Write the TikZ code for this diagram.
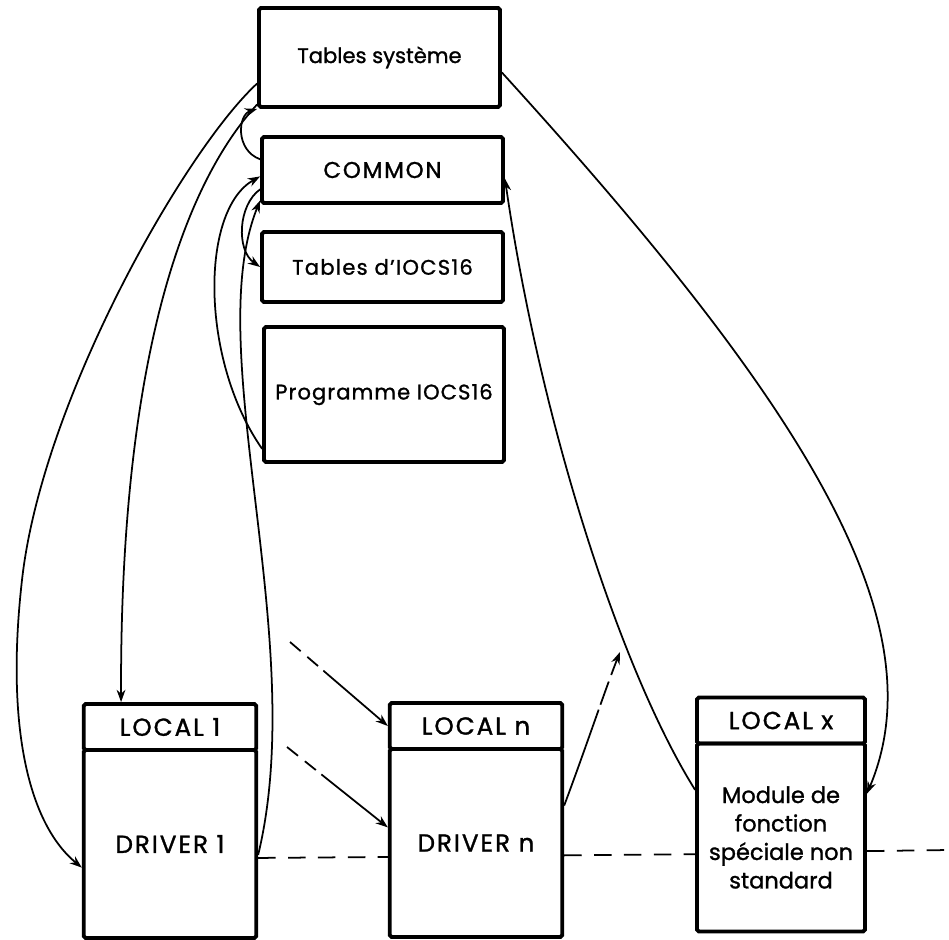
\documentclass[tikz,border=0pt]{standalone}
\usepackage{fontspec}
\setmainfont{Poppins}[UprightFeatures={FakeBold=1.2}]
\usetikzlibrary{arrows.meta,positioning}

\begin{document}
\begin{tikzpicture}
  [x=0.02cm,y=-0.02cm,line width=1pt,>={Stealth[length=7pt,width=5pt]},
   box/.style={draw,line width=2.2pt,rounded corners=1pt,minimum width=4.82cm,inner sep=0pt,
     font=\fontsize{12}{16}\selectfont},
   caps/.style={font=\fontsize{13}{16}\selectfont\addfontfeatures{LetterSpace=8}},
   bigcaps/.style={font=\fontsize{14}{16}\selectfont\addfontfeatures{LetterSpace=8}},
   head/.style={box,bigcaps,minimum width=3.45cm,minimum height=0.92cm},
   body/.style={head,minimum height=3.76cm,align=center},
   link/.style={dash pattern=on 8pt off 5pt on 8pt off 4pt on 200pt},
   uplink/.style={dash pattern=on 58pt off 3pt on 14pt off 4pt on 40pt},
   dashline/.style={dash pattern=on 10pt off 7pt}]

  \useasboundingbox (0,0) rectangle (949,939);

  \node[box,minimum height=1.98cm] (sys) at (379.5,57.5) {Tables système};
  \node[box,caps,minimum height=1.32cm] (common) at (382.5,170) {COMMON};
  \node[box,minimum height=1.4cm] (tab) at (382.5,267) {\addfontfeatures{LetterSpace=6}Tables d'IOCS16};
  \node[box,minimum height=2.7cm,minimum width=4.8cm] (prog) at (384,394.5)
    {\addfontfeatures{LetterSpace=5}Programme IOCS16};

  \node[head] (l1) at (170,727) {LOCAL 1};
  \node[body,below=-2.2pt of l1] (d1) {DRIVER 1};
  \node[head] (ln) at (476,726) {LOCAL n};
  \node[body,below=-2.2pt of ln] (dn) {DRIVER n};
  \node[head,minimum width=3.36cm] (lx) at (781,720.5) {LOCAL x};
  \node[body,minimum width=3.36cm,below=-2.2pt of lx,font=\fontsize{12.8}{16.2}\selectfont] (dx)
    {Module de\\fonction\\spéciale non\\standard};

  \coordinate (s1) at (290,642);
  \coordinate (s2) at (287,747);
  \coordinate (tip) at (620,652);
  \coordinate (edge) at (949,850);

  \draw[->] (sys.192) .. controls (185,150) and (42,400) .. (22,580)
    .. controls (5,730) and (30,825) .. (d1.195);
  \draw[->] (sys.201) .. controls (170,200) and (120,400) .. (l1.153);
  \draw[->] (common.175) .. controls (235,150) and (238,115) .. (sys.south west);
  \draw[->] (prog.204) .. controls (200,360) and (200,210) .. (common.183);
  \draw[->] (common.189) .. controls (238,205) and (236,250) .. (tab.west);
  \draw[->] (d1.-7) .. controls (310,640) and (200,350) .. (common.194);

  \draw[->] (sys.-7) .. controls (800,400) and (940,620) .. (dx.27);
  \draw[->] (dx.151) .. controls (620,670) and (540,420) .. (common.-4);
  \draw[->,uplink] (dn.23) .. controls (585,750) and (605,690) .. (tip);

  \draw[->,link] (s1) -- (ln.west);
  \draw[->,link] (s2) -- (dn.170);

  \draw[dashline] (d1.-9) -- (dn.189);
  \draw[dashline] (dn.-8) -- (dx.191);
  \draw[dashline] (dx.-9) -- (edge);
\end{tikzpicture}
\end{document}
